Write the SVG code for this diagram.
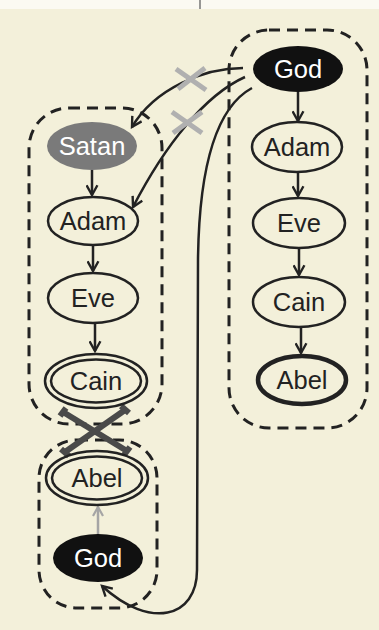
<svg xmlns="http://www.w3.org/2000/svg" width="379" height="630" viewBox="0 0 379 630">
<defs>
<style>
.bg{fill:#f3f0da}
.box{fill:none;stroke:#222;stroke-width:3;stroke-dasharray:11 7}
.n{fill:none;stroke:#222;stroke-width:2.5}
.thick{fill:none;stroke:#222;stroke-width:4.5}
.blk{fill:#111}
.gry{fill:#7a7a7a}
.t{font-family:"Liberation Sans",Arial,sans-serif;font-size:25.5px;text-anchor:middle;fill:#222}
.w{fill:#fff}
.e{fill:none;stroke:#222;stroke-width:2.5}
.g{fill:none;stroke:#a5a5a5;stroke-width:2.5}
.gx{fill:none;stroke:#b0b0b0;stroke-width:5}
.dx{fill:none;stroke:#4a4a4a;stroke-width:6}
</style>
<marker id="a" viewBox="0 0 12 12" refX="10" refY="6" markerWidth="13" markerHeight="13" markerUnits="userSpaceOnUse" orient="auto">
<path d="M1,1 L10,6 L1,11" fill="none" stroke="#222" stroke-width="2.2"/>
</marker>
<marker id="ag" viewBox="0 0 12 12" refX="10" refY="6" markerWidth="12" markerHeight="12" markerUnits="userSpaceOnUse" orient="auto">
<path d="M1,1 L10,6 L1,11" fill="none" stroke="#a5a5a5" stroke-width="2.2"/>
</marker>
</defs>
<rect x="0" y="0" width="379" height="630" class="bg"/>
<rect x="0" y="0" width="379" height="9" fill="#fbfaf2"/>
<line x1="200" y1="0" x2="200" y2="9" stroke="#555" stroke-width="1.2"/>

<g id="clusters">
<rect id="boxRight" class="box" x="229" y="30" width="138" height="398" rx="40" ry="40"/>
<rect id="boxLeftTop" class="box" x="29" y="108" width="133" height="316" rx="40" ry="40"/>
<rect id="boxLeftBottom" class="box" x="39" y="440" width="118" height="168" rx="38" ry="38"/>
</g>

<g id="connectors">
<line class="e" x1="298" y1="92" x2="298" y2="121" marker-end="url(#a)"/>
<line class="e" x1="298" y1="172" x2="298" y2="196" marker-end="url(#a)"/>
<line class="e" x1="299" y1="248" x2="299" y2="275" marker-end="url(#a)"/>
<line class="e" x1="301" y1="327" x2="301" y2="353" marker-end="url(#a)"/>
<line class="e" x1="92" y1="170" x2="92" y2="195" marker-end="url(#a)"/>
<line class="e" x1="93" y1="245" x2="93" y2="271" marker-end="url(#a)"/>
<line class="e" x1="95" y1="323" x2="95" y2="351" marker-end="url(#a)"/>
<line class="g" x1="98" y1="534" x2="98" y2="507" marker-end="url(#ag)"/>
<path class="e" d="M243,68 C205,68 155,88 132,127" marker-end="url(#a)"/>
<path class="e" d="M245,77 C205,95 165,145 133,207" marker-end="url(#a)"/>
<path class="e" d="M252,88 C215,108 199,170 198,260 L197,570 C197,618 150,630 102,586" marker-end="url(#a)"/>
<g id="crossGrey1">
<line class="gx" x1="176" y1="69" x2="206" y2="90"/>
<line class="gx" x1="205" y1="68" x2="178" y2="89"/>
</g>
<g id="crossGrey2">
<line class="gx" x1="172" y1="112" x2="202" y2="133"/>
<line class="gx" x1="202" y1="112" x2="173" y2="133"/>
</g>
<g id="crossDark">
<line class="dx" x1="63" y1="412" x2="127" y2="451"/>
<line class="dx" x1="125" y1="410" x2="65" y2="452"/>
<line class="dx" x1="60" y1="416" x2="66" y2="408"/>
<line class="dx" x1="124" y1="455" x2="130" y2="447"/>
<line class="dx" x1="121" y1="406" x2="129" y2="413"/>
<line class="dx" x1="61" y1="449" x2="69" y2="456"/>
</g>
</g>

<g id="godRight">
<ellipse class="blk" cx="298" cy="69" rx="45" ry="23"/>
<text class="t w" x="298" y="78">God</text>
</g>
<g id="adamRight">
<ellipse class="n" cx="297" cy="147" rx="45" ry="25"/>
<text class="t" x="297" y="156">Adam</text>
</g>
<g id="eveRight">
<ellipse class="n" cx="299" cy="223" rx="46" ry="25"/>
<text class="t" x="299" y="232">Eve</text>
</g>
<g id="cainRight">
<ellipse class="n" cx="299" cy="302" rx="46" ry="25"/>
<text class="t" x="299" y="311">Cain</text>
</g>
<g id="abelRight">
<ellipse class="thick" cx="302" cy="380" rx="44" ry="24"/>
<text class="t" x="302" y="389">Abel</text>
</g>

<g id="satan">
<ellipse class="gry" cx="92" cy="146" rx="45" ry="24"/>
<text class="t w" x="92" y="155">Satan</text>
</g>
<g id="adamLeft">
<ellipse class="n" cx="93" cy="221" rx="45" ry="24"/>
<text class="t" x="93" y="230">Adam</text>
</g>
<g id="eveLeft">
<ellipse class="n" cx="93" cy="298" rx="45" ry="25"/>
<text class="t" x="93" y="307">Eve</text>
</g>
<g id="cainLeft">
<ellipse class="n" cx="96" cy="381" rx="51" ry="27"/>
<ellipse class="n" cx="96" cy="381" rx="45" ry="21.5"/>
<text class="t" x="96" y="390">Cain</text>
</g>
<g id="abelLeft">
<ellipse class="n" cx="97" cy="478" rx="51" ry="27"/>
<ellipse class="n" cx="97" cy="478" rx="45" ry="21.5"/>
<text class="t" x="97" y="487">Abel</text>
</g>
<g id="godLeft">
<ellipse class="blk" cx="98" cy="558" rx="45" ry="24"/>
<text class="t w" x="98" y="567">God</text>
</g>
</svg>
